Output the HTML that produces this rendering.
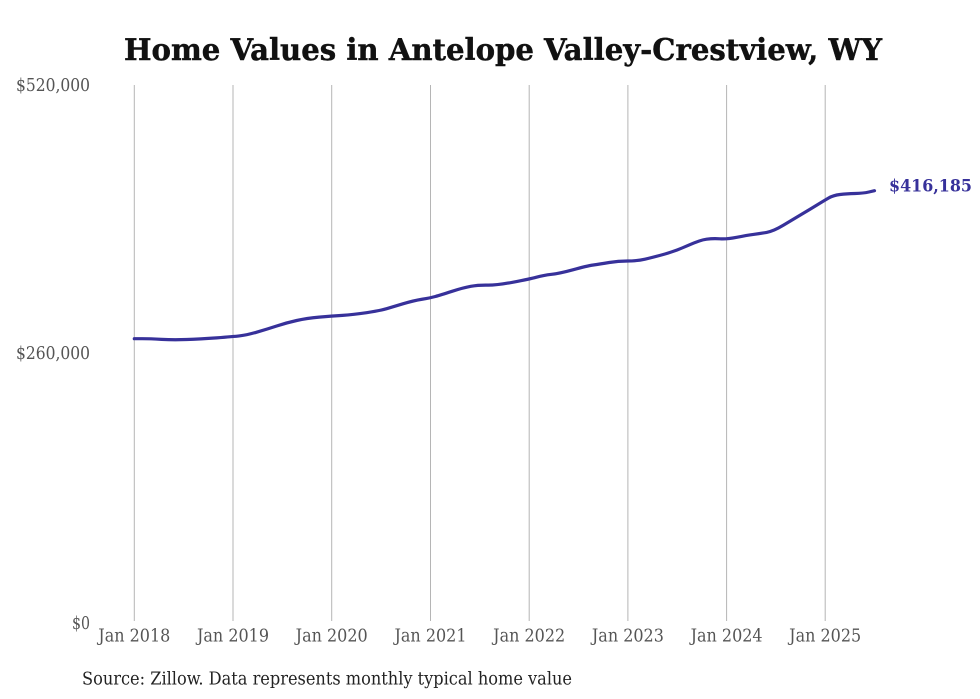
<!DOCTYPE html>
<html>
<head>
<meta charset="utf-8">
<style>
  html, body { margin: 0; padding: 0; background: #ffffff; }
  svg { display: block; }
  .lbl { font-family: "DejaVu Serif Condensed", "DejaVu Serif", "Liberation Serif", serif; font-stretch: condensed; font-size: 17.5px; fill: #555555; }
</style>
</head>
<body>
<svg width="980" height="699" viewBox="0 0 980 699" xmlns="http://www.w3.org/2000/svg">
  <rect width="980" height="699" fill="#ffffff"/>
  <text x="124" y="60" textLength="758" lengthAdjust="spacingAndGlyphs" font-family="DejaVu Serif Condensed, DejaVu Serif, Liberation Serif, serif" font-weight="bold" font-size="30" fill="#111111" stroke="#111111" stroke-width="0.4">Home Values in Antelope Valley-Crestview, WY</text>

  <g stroke="#b5b5b5" stroke-width="1">
    <line x1="134.3" y1="85" x2="134.3" y2="621"/>
    <line x1="233" y1="85" x2="233" y2="621"/>
    <line x1="331.7" y1="85" x2="331.7" y2="621"/>
    <line x1="430.5" y1="85" x2="430.5" y2="621"/>
    <line x1="529.2" y1="85" x2="529.2" y2="621"/>
    <line x1="627.9" y1="85" x2="627.9" y2="621"/>
    <line x1="726.6" y1="85" x2="726.6" y2="621"/>
    <line x1="825.2" y1="85" x2="825.2" y2="621"/>
  </g>

  <text class="lbl" x="90" y="91" text-anchor="end" textLength="74" lengthAdjust="spacingAndGlyphs">$520,000</text>
  <text class="lbl" x="90" y="359" text-anchor="end" textLength="74" lengthAdjust="spacingAndGlyphs">$260,000</text>
  <text class="lbl" x="90" y="629" text-anchor="end" textLength="18" lengthAdjust="spacingAndGlyphs">$0</text>

  <g class="lbl" text-anchor="middle">
    <text x="134.3" y="641.5" textLength="72" lengthAdjust="spacingAndGlyphs">Jan 2018</text>
    <text x="233" y="641.5" textLength="72" lengthAdjust="spacingAndGlyphs">Jan 2019</text>
    <text x="331.7" y="641.5" textLength="72" lengthAdjust="spacingAndGlyphs">Jan 2020</text>
    <text x="430.5" y="641.5" textLength="72" lengthAdjust="spacingAndGlyphs">Jan 2021</text>
    <text x="529.2" y="641.5" textLength="72" lengthAdjust="spacingAndGlyphs">Jan 2022</text>
    <text x="627.9" y="641.5" textLength="72" lengthAdjust="spacingAndGlyphs">Jan 2023</text>
    <text x="726.6" y="641.5" textLength="72" lengthAdjust="spacingAndGlyphs">Jan 2024</text>
    <text x="825.2" y="641.5" textLength="72" lengthAdjust="spacingAndGlyphs">Jan 2025</text>
  </g>

  <path fill="none" stroke="#37319a" stroke-width="3.2" stroke-linejoin="round" stroke-linecap="round"
    d="M134.3,338.7 L142.15,338.7
       Q150,338.7 161.65,339.35
       Q173.3,340 186.65,339.5
       Q200,339 216.65,337.85
       Q233.3,336.7 240,335.85
       Q246.7,335 256.7,332.15
       Q266.7,329.3 276.7,326
       Q286.7,322.7 296.7,320.5
       Q306.7,318.3 319.2,317.15
       Q331.7,316 342.5,315.35
       Q353.3,314.7 366.65,312.7
       Q380,310.7 386.65,308.7
       Q393.3,306.7 403.3,303.7
       Q413.3,300.7 422,299.25
       Q430.7,297.8 435.35,296.5
       Q440,295.2 451.65,291.45
       Q463.3,287.7 470.8,286.35
       Q478.3,285 487.5,285.15
       Q496.7,285.3 513.2,282.15
       Q529.7,279 536.5,277.15
       Q543.3,275.3 551.65,274.3
       Q560,273.3 573.35,269.65
       Q586.7,266 593.35,265
       Q600,264 609.15,262.5
       Q618.3,261 627.5,261
       Q636.7,261 645,259.15
       Q653.3,257.3 665,254
       Q676.7,250.7 688.35,245.35
       Q700,240 706.65,239.15
       Q713.3,238.3 720,238.8
       Q726.7,239.3 736.7,237.3
       Q746.7,235.3 753.35,234.4
       Q760,233.5 766.65,232.4
       Q773.3,231.3 783.3,225.3
       Q793.3,219.3 801.65,214.3
       Q810,209.3 817,205
       Q824,200.7 828.65,198
       Q833.3,195.3 840,194.5
       Q846.7,193.7 855,193.5
       Q863.3,193.3 868.9,192
       L874.5,190.7"/>

  <text x="889" y="191.5" textLength="83" lengthAdjust="spacingAndGlyphs" font-family="DejaVu Serif Condensed, DejaVu Serif, Liberation Serif, serif" font-weight="bold" font-size="17" fill="#37319a">$416,185</text>

  <text x="82" y="684.5" textLength="490" lengthAdjust="spacingAndGlyphs" font-family="DejaVu Serif Condensed, DejaVu Serif, Liberation Serif, serif" font-size="17.5" fill="#222222">Source: Zillow. Data represents monthly typical home value</text>
</svg>
</body>
</html>
